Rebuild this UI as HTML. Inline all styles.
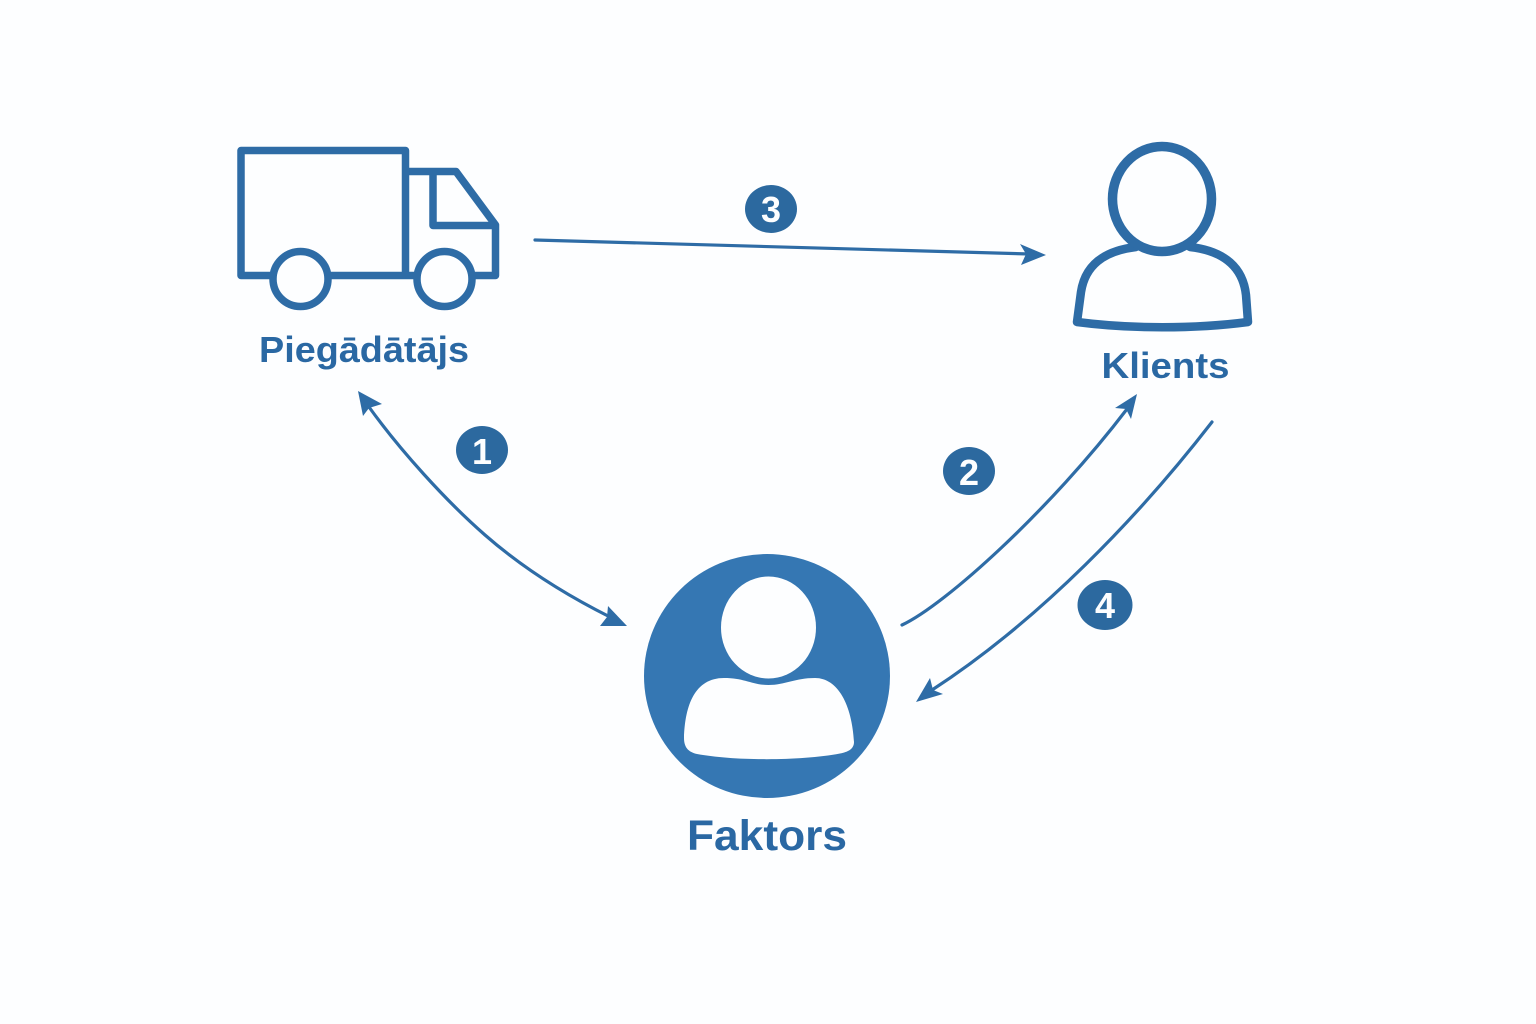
<!DOCTYPE html>
<html><head><meta charset="utf-8">
<style>html,body{margin:0;padding:0;background:#fdfeff}svg{display:block}
text{font-family:"Liberation Sans","DejaVu Sans",sans-serif;font-weight:700;text-anchor:middle}</style></head>
<body>
<svg width="1536" height="1024" viewBox="0 0 1536 1024" xmlns="http://www.w3.org/2000/svg">
<rect width="1536" height="1024" fill="#fdfeff"/>
<!-- truck -->
<g fill="none" stroke="#2e6ca6" stroke-width="7.500" stroke-linejoin="round">
<path d="M272 275.500H241V150.500H405.500V275.500"/>
<path d="M331 275.500H415"/>
<path d="M405.500 171.500H456L495.500 225V275.500H474"/>
<path d="M433 171.500V225.500H495.500"/>
<circle cx="300.500" cy="279" r="27.500" fill="#fdfeff"/>
<circle cx="444.500" cy="279" r="27.500" fill="#fdfeff"/>
</g>
<text x="364" y="362" font-size="36" fill="#2a68a3" textLength="210" lengthAdjust="spacingAndGlyphs">Piegādātājs</text>
<!-- client -->
<g fill="none" stroke="#2e6ca6" stroke-linejoin="round" stroke-linecap="round">
<path stroke-width="8.500" d="M1136 247C1103 251 1085 266 1081 292L1077 322C1130 329 1195 329 1248 322L1246 295C1243 268 1225 251 1190 247"/>
<ellipse cx="1162" cy="199" rx="49.500" ry="52.500" stroke-width="9.500"/>
</g>
<text x="1165.500" y="378" font-size="36" fill="#2a68a3" textLength="128" lengthAdjust="spacingAndGlyphs">Klients</text>
<!-- factor -->
<ellipse cx="767" cy="676" rx="123" ry="122" fill="#3577b3"/>
<ellipse cx="768.500" cy="627.500" rx="47.500" ry="51" fill="#fdfeff"/>
<path d="M684 738C685 705 695 678 724 678C745 678 752 685 768.500 685C785 685 795 678 815 678C838 678 852 705 854 742C854 749 848 752 840 753.500C800 761 735 761 697 754C688 752 684 747 684 738Z" fill="#fdfeff"/>
<text x="767" y="850" font-size="43" fill="#2a68a3" textLength="160" lengthAdjust="spacingAndGlyphs">Faktors</text>
<!-- connectors -->
<g fill="none" stroke="#2e6ca6" stroke-width="3.200" stroke-linecap="round">
<path d="M369 407C400 450 445 500 485 535C525 570 570 597 610 617"/>
<path d="M535 240L1030 254"/>
<path d="M902 625C945 605 1050 510 1127 409"/>
<path d="M1212 422C1140 515 1040 620 932 690"/>
</g>
<g fill="#2e6ca6">
<path d="M358 391L382 404L369 408L363 416Z"/>
<path d="M627 626L600 626L607 617L608 606Z"/>
<path d="M1046 255L1021 265L1026 254L1020 244Z"/>
<path d="M1137 394L1131 419L1126 409L1115 408Z"/>
<path d="M916 702L930 678L933 690L943 694Z"/>
</g>
<!-- badges -->
<g fill="#2c699f">
<ellipse cx="482" cy="450" rx="26" ry="24"/>
<ellipse cx="969" cy="471" rx="26" ry="24"/>
<ellipse cx="771" cy="209" rx="26" ry="24"/>
<ellipse cx="1105" cy="605" rx="27.500" ry="25"/>
</g>
<g fill="#fdfeff" font-size="36">
<text x="482" y="464">1</text>
<text x="969" y="485">2</text>
<text x="771" y="222">3</text>
<text x="1105" y="618">4</text>
</g>
</svg>
</body></html>
